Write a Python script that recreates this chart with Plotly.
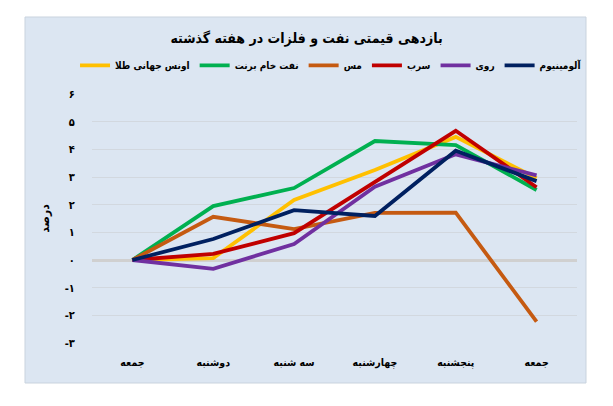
import plotly.graph_objects as go

categories = ["جمعه", "دوشنبه", "سه شنبه", "چهارشنبه", "پنجشنبه", "جمعه"]
x_pos = [0, 1, 2, 3, 4, 5]

series_names = ["اونس جهانی طلا", "نفت خام برنت", "مس", "سرب", "روی", "آلومینیوم"]
gold = [0, 0.07, 2.17, 3.25, 4.45, 2.96]
brent = [0, 1.95, 2.6, 4.3, 4.15, 2.53]
copper = [0, 1.56, 1.12, 1.7, 1.71, -2.23]
lead = [0, 0.22, 0.97, 2.83, 4.67, 2.63]
zinc = [0, -0.32, 0.58, 2.65, 3.82, 3.06]
aluminium = [0, 0.76, 1.8, 1.59, 3.95, 2.85]
series_values = [gold, brent, copper, lead, zinc, aluminium]
colors = ["#FFC000", "#00B050", "#C55A11", "#C00000", "#7030A0", "#002060"]

y_tickvals = [-3, -2, -1, 0, 1, 2, 3, 4, 5, 6]
y_ticktext = ["-۳", "-۲", "-۱", "۰", "۱", "۲", "۳", "۴", "۵", "۶"]

FONT = "DejaVu Sans Condensed, DejaVu Sans"

fig = go.Figure()
for name, vals, c in zip(series_names, series_values, colors):
    fig.add_trace(go.Scatter(
        x=x_pos, y=vals, name=name, mode="lines",
        line=dict(color=c, width=3.8),
    ))

fig.update_layout(
    width=613, height=406,
    margin=dict(l=92, r=36, t=94, b=63),
    paper_bgcolor="white",
    plot_bgcolor="rgba(0,0,0,0)",
    font=dict(family=FONT, color="black"),
    title=dict(text="<b>بازدهی قیمتی نفت و فلزات در هفته گذشته</b>",
               x=0.5, xref="container", xanchor="center",
               y=1 - 38 / 406, yref="container", yanchor="middle",
               font=dict(family=FONT, size=14, color="black")),
    legend=dict(orientation="h", x=-0.035, xanchor="left",
                y=1.115, yanchor="middle",
                font=dict(family=FONT, size=10, color="black", weight="bold"),
                bgcolor="rgba(0,0,0,0)", itemwidth=30,
                tracegroupgap=0),
    showlegend=True,
    shapes=[dict(type="rect", xref="paper", yref="paper",
                 x0=(25 - 92) / 485, x1=(586 - 92) / 485,
                 y0=(343 - 383) / 249, y1=(343 - 17) / 249,
                 fillcolor="#DCE6F2", line=dict(color="#C9D3DE", width=1),
                 layer="below")],
)

fig.update_xaxes(
    range=[-0.5, 5.5], tickvals=x_pos, ticktext=categories,
    showgrid=False, zeroline=False, showline=False,
    tickfont=dict(family=FONT, size=10.5, color="black", weight="bold"),
    ticks="outside", ticklen=9, tickcolor="rgba(0,0,0,0)",
)
fig.update_yaxes(
    range=[-3, 6], tickvals=y_tickvals, ticktext=y_ticktext,
    showgrid=True, gridcolor="#D2D8DF", gridwidth=1,
    zeroline=True, zerolinecolor="#D0D0D0", zerolinewidth=2.5,
    showline=False,
    tickfont=dict(family=FONT, size=11, color="black", weight="bold"),
    ticks="outside", ticklen=14, tickcolor="rgba(0,0,0,0)",
    title=dict(text="<b>درصد</b>", font=dict(family=FONT, size=12, color="black"),
               standoff=12),
)

fig.write_html("out.html", config={"displayModeBar": False},
               post_script="document.body.style.margin='0';")
